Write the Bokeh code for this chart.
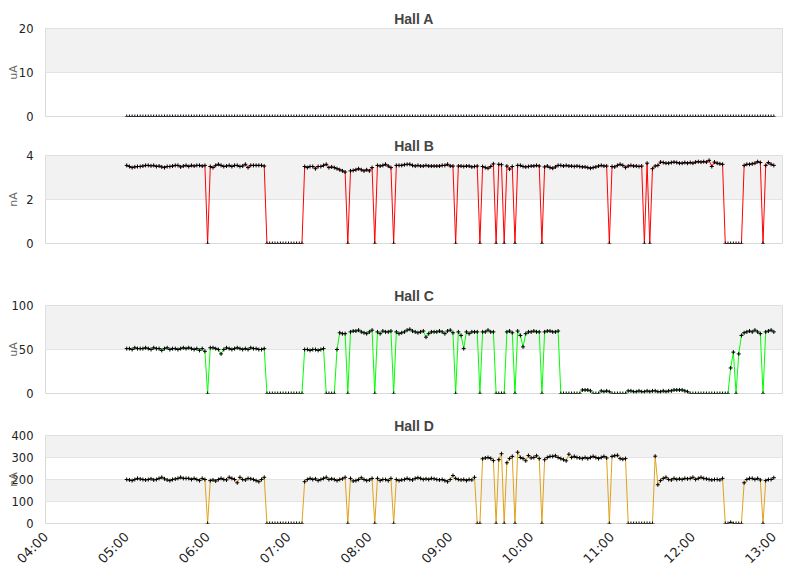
import math
import pandas as pd
from bokeh.plotting import figure
from bokeh.layouts import column
from bokeh.models import ColumnDataSource, FixedTicker, DatetimeTickFormatter, Range1d
from bokeh.embed import file_html
from bokeh.resources import INLINE

# samples every 2 minutes, 05:00 .. 13:00
day = "2016-03-10"
times = pd.date_range(f"{day} 05:00", f"{day} 13:00", freq="2min")
hour_ticks = pd.date_range(f"{day} 04:00", f"{day} 13:00", freq="1h")

hall_a = [
    0, 0, 0, 0, 0, 0, 0, 0, 0, 0, 0, 0, 0, 0, 0, 0, 0, 0, 0, 0, 0, 0, 0, 0, 0, 0, 0, 0, 0, 0,
    0, 0, 0, 0, 0, 0, 0, 0, 0, 0, 0, 0, 0, 0, 0, 0, 0, 0, 0, 0, 0, 0, 0, 0, 0, 0, 0, 0, 0, 0,
    0, 0, 0, 0, 0, 0, 0, 0, 0, 0, 0, 0, 0, 0, 0, 0, 0, 0, 0, 0, 0, 0, 0, 0, 0, 0, 0, 0, 0, 0,
    0, 0, 0, 0, 0, 0, 0, 0, 0, 0, 0, 0, 0, 0, 0, 0, 0, 0, 0, 0, 0, 0, 0, 0, 0, 0, 0, 0, 0, 0,
    0, 0, 0, 0, 0, 0, 0, 0, 0, 0, 0, 0, 0, 0, 0, 0, 0, 0, 0, 0, 0, 0, 0, 0, 0, 0, 0, 0, 0, 0,
    0, 0, 0, 0, 0, 0, 0, 0, 0, 0, 0, 0, 0, 0, 0, 0, 0, 0, 0, 0, 0, 0, 0, 0, 0, 0, 0, 0, 0, 0,
    0, 0, 0, 0, 0, 0, 0, 0, 0, 0, 0, 0, 0, 0, 0, 0, 0, 0, 0, 0, 0, 0, 0, 0, 0, 0, 0, 0, 0, 0,
    0, 0, 0, 0, 0, 0, 0, 0, 0, 0, 0, 0, 0, 0, 0, 0, 0, 0, 0, 0, 0, 0, 0, 0, 0, 0, 0, 0, 0, 0,
    0,
]

hall_b = [
    3.55, 3.50, 3.45, 3.48, 3.50, 3.50, 3.52, 3.55, 3.55, 3.53, 3.55, 3.50, 3.52, 3.48, 3.45,
    3.50, 3.50, 3.52, 3.55, 3.55, 3.48, 3.52, 3.55, 3.50, 3.55, 3.52, 3.55, 3.55, 3.52, 3.55,
    0,
    3.50, 3.45, 3.55, 3.60, 3.55, 3.50, 3.52, 3.55, 3.50, 3.55, 3.55, 3.50, 3.52, 3.60, 3.45,
    3.55, 3.55, 3.55, 3.55, 3.55, 3.52,
    0, 0, 0, 0, 0, 0, 0, 0, 0, 0, 0, 0, 0, 0,
    3.50, 3.45, 3.50, 3.50, 3.40, 3.50, 3.50, 3.55, 3.60, 3.45, 3.48, 3.45, 3.40, 3.35, 3.30, 3.25,
    0,
    3.30, 3.32, 3.35, 3.40, 3.35, 3.30, 3.35, 3.30, 3.45,
    0,
    3.55, 3.52, 3.55, 3.60, 3.52, 3.45,
    0,
    3.55, 3.55, 3.55, 3.58, 3.60, 3.60, 3.55, 3.52, 3.55, 3.52, 3.52, 3.55, 3.52, 3.52, 3.52,
    3.52, 3.52, 3.55, 3.55, 3.60, 3.52, 3.52,
    0,
    3.52, 3.52, 3.50, 3.52, 3.52, 3.48, 3.50, 3.52,
    0,
    3.50, 3.45, 3.42, 3.50, 3.62,
    0,
    3.60, 3.58,
    0,
    3.52, 3.38, 3.50,
    0,
    3.55, 3.55, 3.50, 3.48, 3.50, 3.52, 3.52, 3.55, 3.52,
    0,
    3.48, 3.52, 3.45, 3.42, 3.48, 3.55, 3.55, 3.52, 3.55, 3.52, 3.52, 3.50, 3.52, 3.50, 3.48,
    3.48, 3.45, 3.42, 3.45, 3.48, 3.52, 3.55, 3.52, 3.52,
    0,
    3.50, 3.48, 3.55, 3.60, 3.55, 3.45, 3.52, 3.55, 3.52, 3.52, 3.50, 3.52,
    0,
    3.65,
    0,
    3.40, 3.52, 3.55, 3.70, 3.68, 3.65, 3.65, 3.68, 3.70, 3.68, 3.65, 3.65, 3.68, 3.65, 3.68,
    3.65, 3.70, 3.72, 3.70, 3.72, 3.70, 3.78, 3.50, 3.70, 3.65, 3.62, 3.60,
    0, 0, 0, 0, 0, 0, 0,
    3.55, 3.60, 3.60, 3.62, 3.65, 3.72, 3.68,
    0,
    3.55, 3.68, 3.60, 3.55,
]

hall_c = [
    51, 51, 50, 52, 51, 51, 51, 52, 51, 50, 52, 51, 51, 49, 51,
    52, 50, 51, 51, 50, 51, 52, 51, 52, 51, 50, 51, 49, 51, 48,
    0,
    52, 52, 51, 50, 45, 50, 52, 51, 50, 51, 52, 51, 50, 51, 50, 52, 51, 51, 50, 50, 51,
    0, 0, 0, 0, 0, 0, 0, 0, 0, 0, 0, 0, 0, 0,
    50, 50, 49, 50, 50, 49, 50, 51,
    0, 0, 0, 0,
    50,
    69, 68, 68,
    0,
    70, 71, 71, 72, 70, 69, 68, 70, 72,
    0,
    70, 68, 71, 70, 70, 71,
    0,
    70, 68, 69, 70, 72, 73, 71, 70, 69, 70, 71, 64, 68, 70, 70, 70, 71, 70, 68, 71, 72, 69,
    0,
    70, 66, 51, 70, 68, 70, 70, 70,
    0,
    70, 70, 72, 70, 70,
    0, 0, 0, 0,
    70, 71, 69,
    0,
    71, 66, 53, 68, 70, 70, 71, 70, 70,
    0,
    70, 71, 71, 70, 70, 71,
    0, 0, 0, 0, 0, 0, 0, 0,
    4, 4, 4, 3,
    0, 0, 0,
    3, 2, 3, 2,
    0, 0, 0, 0, 0, 0,
    3, 3, 2, 2, 3, 2, 2, 3, 2, 3, 3, 2, 2, 3, 2, 3, 3, 4, 4, 4, 4, 3, 2,
    0, 0, 0, 0, 0, 0, 0, 0, 0, 0, 0, 0, 0, 0, 0,
    29, 47,
    0,
    45, 66,
    69, 70, 71, 70, 72, 70, 68,
    0,
    70, 71, 72, 70,
]

hall_d = [
    200, 198, 195, 200, 205, 202, 200, 198, 200, 203, 198, 200, 205, 210, 203,
    198, 195, 200, 202, 205, 210, 205, 205, 205, 200, 205, 200, 195, 205, 200,
    0,
    195, 198, 193, 200, 205, 200, 198, 210, 205, 200, 185, 210, 200, 198, 205, 203, 200, 195,
    190, 200, 210,
    0, 0, 0, 0, 0, 0, 0, 0, 0, 0, 0, 0, 0, 0,
    190, 200, 205, 200, 203, 195, 200, 205, 210, 200, 203, 200, 195, 200, 203, 210,
    0,
    205, 193, 195, 200, 208, 200, 195, 198, 205,
    0,
    205, 195, 200, 200, 195, 205,
    0,
    200, 195, 198, 200, 205, 200, 198, 205, 208, 205, 200, 203, 200, 205, 203,
    200, 198, 200, 195, 190, 200, 218, 205, 200, 198, 200, 195, 200, 198, 210,
    0, 0,
    294, 298, 300, 296, 286,
    0,
    290, 317,
    0,
    276, 295, 305,
    0,
    324, 300, 295, 285, 309, 298, 300, 308, 295,
    0,
    290, 300, 305, 305, 308, 300, 295, 290, 285, 315, 300, 305, 300, 298, 295,
    300, 295, 300, 305, 300, 295, 300, 305, 298,
    0,
    305, 308, 310, 295, 292, 295,
    0, 0, 0, 0, 0, 0, 0, 0, 0, 0,
    306, 176,
    195, 205, 210, 200, 198, 205, 200, 203, 200, 205, 203, 205, 210, 200, 205,
    210, 205, 203, 200, 198, 200, 200, 198, 205,
    0, 0, 5, 0, 0, 0, 0,
    185, 200, 205, 205, 200, 205, 198,
    0,
    195, 200, 200, 208,
]

for series in (hall_a, hall_b, hall_c, hall_d):
    assert len(series) == len(times), len(series)

x_range = Range1d(pd.Timestamp(f"{day} 03:59:45").to_pydatetime(),
                  pd.Timestamp(f"{day} 13:06:27").to_pydatetime())


def make_panel(title, unit, values, color, y_max, y_ticks, top, bottom,
               unit_standoff, x_axis=False):
    p = figure(frame_width=737, frame_height=88, x_axis_type="datetime",
               x_range=x_range, y_range=Range1d(0, y_max),
               min_border_left=45, min_border_right=6,
               min_border_top=top, min_border_bottom=bottom,
               output_backend="svg", toolbar_location=None)
    p.title.text = title
    p.title.align = "center"
    p.title.offset = -12
    p.title.standoff = 4
    p.title.text_font = "Liberation Sans"
    p.title.text_font_size = "14px"
    p.title.text_font_style = "bold"
    p.title.text_color = "#444444"

    p.outline_line_color = "#d9d9d9"
    p.xgrid.visible = False
    p.ygrid.ticker = FixedTicker(ticks=y_ticks)
    p.ygrid.grid_line_color = "#e3e3e3"
    p.ygrid.band_fill_color = "#f2f2f2"
    p.ygrid.band_fill_alpha = 1.0

    p.yaxis.ticker = FixedTicker(ticks=y_ticks)
    p.yaxis.axis_label = unit
    p.yaxis.axis_label_text_font = "DejaVu Sans"
    p.yaxis.axis_label_text_font_size = "11px"
    p.yaxis.axis_label_text_font_style = "normal"
    p.yaxis.axis_label_text_color = "#666666"
    p.yaxis.axis_label_standoff = unit_standoff
    p.yaxis.axis_line_color = None
    p.yaxis.major_tick_line_color = None
    p.yaxis.minor_tick_line_color = None
    p.yaxis.major_label_standoff = 6
    p.yaxis.major_label_text_font = "DejaVu Sans"
    p.yaxis.major_label_text_font_size = "11.5px"
    p.yaxis.major_label_text_color = "#222222"

    if x_axis:
        xa = p.xaxis[0]
        xa.ticker = FixedTicker(ticks=[t.value // 10**6 for t in hour_ticks])
        xa.formatter = DatetimeTickFormatter(hours="%H:%M", hourmin="%H:%M", minutes="%H:%M",
                                             minsec="%H:%M", days="%H:%M", months="%H:%M")
        xa.major_label_orientation = math.pi / 4
        xa.axis_line_color = None
        xa.major_tick_line_color = None
        xa.minor_tick_line_color = None
        xa.major_label_text_font = "DejaVu Sans"
        xa.major_label_text_font_size = "13px"
        xa.major_label_text_color = "#222222"
        xa.major_label_standoff = 5
    else:
        p.xaxis.visible = False

    src = ColumnDataSource(dict(t=times, v=values))
    p.line("t", "v", source=src, line_color=color, line_width=1)
    p.scatter("t", "v", source=src, marker="cross", size=4,
              line_color="black", line_width=1)
    return p


pa = make_panel("Hall A", "uA", hall_a, "#4169e1", 20, [0, 10, 20], 28, 14, -4)
pb = make_panel("Hall B", "nA", hall_b, "#ff0000", 4, [0, 2, 4], 25, 38, 3)
pc = make_panel("Hall C", "uA", hall_c, "#00ff00", 100, [0, 50, 100], 24, 18, -11)
pd_ = make_panel("Hall D", "nA", hall_d, "#e0a21c", 400, [0, 100, 200, 300, 400], 24, 44,
                 -11, x_axis=True)

layout = column(pa, pb, pc, pd_)
open("out.html", "w").write(file_html(layout, INLINE))
